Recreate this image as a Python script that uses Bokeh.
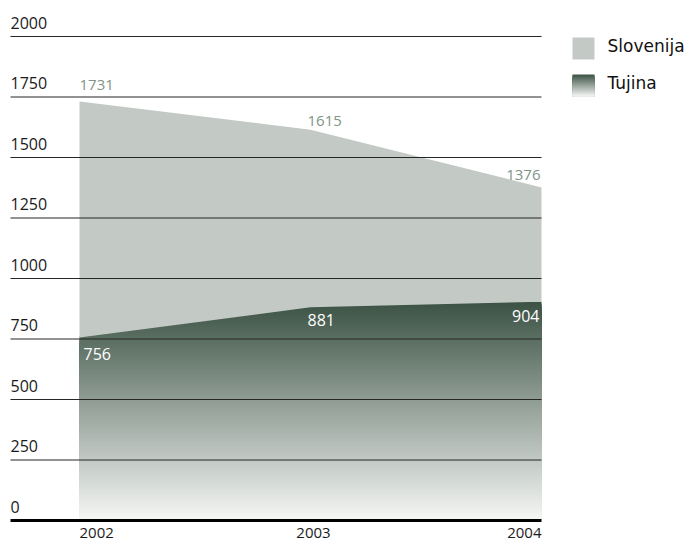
import numpy as np
from bokeh.plotting import figure
from bokeh.models import Range1d
from bokeh.core.properties import value
from bokeh.embed import file_html
from bokeh.resources import INLINE

# ---- data ----
years = [2002, 2003, 2004]
slovenija = [1731, 1615, 1376]
tujina = [756, 881, 904]
y_ticks = [0, 250, 500, 750, 1000, 1250, 1500, 1750, 2000]
y_tick_labels = [str(v) for v in y_ticks]
x_tick_labels = ["2002", "2003", "2004"]
series_names = ["Slovenija", "Tujina"]

# ---- layout (page pixels) ----
W, H = 686, 543
PAGE = 0
X0_PX, X1_PX = 79, 541
Y0_PX, YTOP_PX = 520, 36
GRID_LEFT_PX = 10

ppx = (X1_PX - X0_PX) / (years[-1] - years[0])
ppy = (Y0_PX - YTOP_PX) / y_ticks[-1]
x_start = years[0] - (X0_PX - PAGE) / ppx
x_end = x_start + W / ppx
y_end = (Y0_PX - PAGE) / ppy
y_start = y_end - H / ppy


def px2x(px):
    return years[0] + (px - X0_PX) / ppx


def px2y(py):
    return (Y0_PX - py) / ppy


GRAY = "#c3c9c5"
DARK = np.array([59, 82, 68])
LIGHT = np.array([246, 247, 246])


def grad(t):
    c = DARK + (LIGHT - DARK) * t
    return "#%02x%02x%02x" % tuple(int(round(v)) for v in c)


p = figure(width=W, height=H, x_range=Range1d(x_start, x_end),
           y_range=Range1d(y_start, y_end), output_backend="svg",
           toolbar_location=None, x_axis_type=None, y_axis_type=None,
           min_border=0, outline_line_color=None)
p.background_fill_color = "white"
p.border_fill_color = "white"

# gradient area for Tujina (overlapping bars from the bottom, tallest first)
top = max(tujina)
N = 120
step = top / N
levels = top - step * np.arange(N)
cols = [grad((top - (lv - step / 2)) / top) for lv in levels]
lefts = [years[0] if lv <= min(tujina) + step else px2x(X0_PX + 1.5) for lv in levels]
p.quad(left=lefts, right=years[-1], bottom=0, top=levels,
       fill_color=cols, line_color=None)

# Slovenija area above Tujina
p.varea(x=years, y1=tujina, y2=slovenija, fill_color=GRAY)

# grid lines
gx0 = px2x(GRID_LEFT_PX)
p.segment(x0=gx0, x1=years[-1], y0=y_ticks[1:], y1=y_ticks[1:],
          line_color="#262626", line_width=1.2)
p.segment(x0=gx0, x1=years[-1], y0=0, y1=0, line_color="black", line_width=3)

# y tick labels
p.text(x=gx0, y=y_ticks, text=y_tick_labels, text_align="left",
       text_baseline="middle", y_offset=-14, text_font=value("Open Sans"),
       text_font_size="16px", text_color="#1a1a1a")

# x tick labels
p.text(x=years, y=[0, 0, 0], text=x_tick_labels,
       text_align=["left", "center", "right"], text_baseline="middle",
       x_offset=[0, 3, 0], y_offset=12, text_font=value("Open Sans"),
       text_font_size="15px", text_color="#1a1a1a")

# value labels
p.text(x=years, y=slovenija, text=[str(v) for v in slovenija],
       text_align=["left", "left", "right"], text_baseline="middle",
       x_offset=[0, -3, -1], y_offset=[-17, -9, -13],
       text_font=value("Open Sans"), text_font_size="15px",
       text_color="#7f9485")
p.text(x=years, y=tujina, text=[str(v) for v in tujina],
       text_align=["left", "left", "right"], text_baseline="middle",
       x_offset=[4, -3, -2], y_offset=[16, 13, 14],
       text_font=value("Open Sans"), text_font_size="16px",
       text_color="white")

# legend
p.quad(left=px2x(572), right=px2x(594), top=px2y(37), bottom=px2y(59),
       fill_color=GRAY, line_color=None)
M = 22
sw_top, sw_bot = 74, 96
edges = np.linspace(sw_top, sw_bot, M + 1)
p.quad(left=px2x(572), right=px2x(594),
       top=[px2y(e) for e in edges[:-1]],
       bottom=[px2y(sw_bot) for e in edges[:-1]],
       fill_color=[grad((i + 0.5) / M) for i in range(M)], line_color=None)
p.text(x=px2x(607), y=[px2y(45), px2y(82)], text=series_names,
       text_align="left", text_baseline="middle",
       text_font=value("DejaVu Sans"), text_font_size="17px",
       text_color="#111111")

open("out.html", "w").write(file_html(p, INLINE))
